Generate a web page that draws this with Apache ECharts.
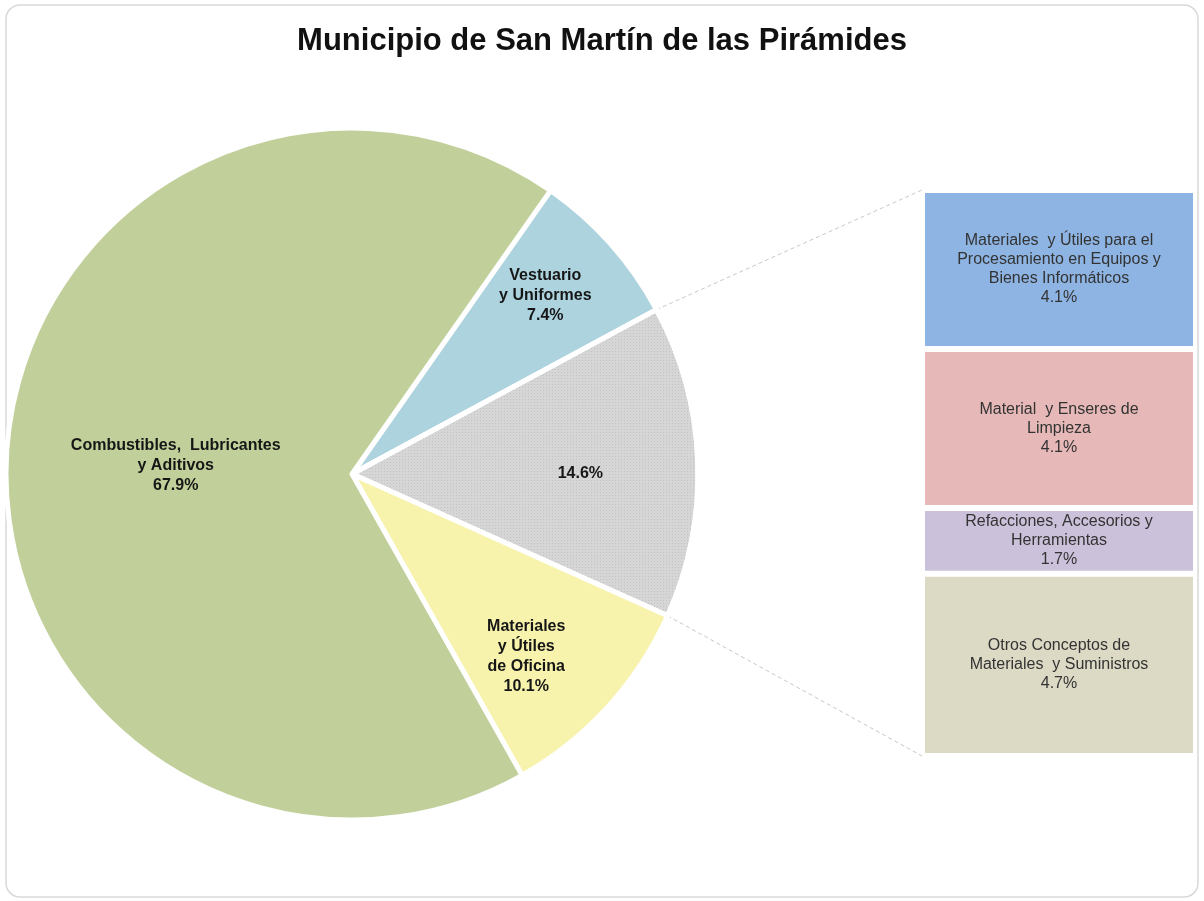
<!DOCTYPE html>
<html><head><meta charset="utf-8">
<script src="https://cdn.jsdelivr.net/npm/echarts@6/dist/echarts.min.js"></script>
<style>html,body{margin:0;padding:0;background:#fff}#c{width:1204px;height:901px}</style>
</head><body><div id="c"></div>
<script>
// ---- data ----
const titleText = 'Municipio de San Martín de las Pirámides';
const pieCategories = ['Vestuario\ny Uniformes', 'Otros', 'Materiales\ny Útiles\nde Oficina', 'Combustibles,  Lubricantes\ny Aditivos'];
const pieValues = [7.4, 14.6, 10.1, 67.9];
const otherIndex = 1;
const barCategories = [
  'Materiales  y Útiles para el\nProcesamiento en Equipos y\nBienes Informáticos',
  'Material  y Enseres de\nLimpieza',
  'Refacciones, Accesorios y\nHerramientas',
  'Otros Conceptos de\nMateriales  y Suministros'
];
const barValues = [4.1, 4.1, 1.7, 4.7];

// ---- style / layout ----
const pieColors = ['#add3df', '#d6d6d6', '#f7f3ad', '#c1d09a'];
const barColors = ['#8db4e2', '#e6b9b8', '#ccc1da', '#dcd9c4'];
const barBorders = ['#7fa6d6', '#dcaaa9', '#bfb3d0', '#cfcbb3'];
const pieCenter = [352, 474];
const pieRadius = 346;
const startClock = 35; // degrees clockwise from 12 o'clock
const labelRadiusFactor = [0.76, 0.66, 0.73, 0.51];
const labelAngleShift = [-1, 2, 4, 0];
const gridBox = {left: 922, right: 8, top: 190, bottom: 145};
const FONT = '"Liberation Sans", Arial, sans-serif';

const chart = echarts.init(document.getElementById('c'));
const barTotal = barValues.reduce((a, b) => a + b, 0);
const pieTotal = pieValues.reduce((a, b) => a + b, 0);
// clockwise angles (deg from 12 o'clock) of each slice start
const sliceStart = [];
{ let acc = 0; pieValues.forEach(v => { sliceStart.push(startClock + acc / pieTotal * 360); acc += v; }); }
function pointAt(clockDeg, r) {
  const a = clockDeg * Math.PI / 180;
  return [pieCenter[0] + r * Math.sin(a), pieCenter[1] - r * Math.cos(a)];
}

const option = {
  backgroundColor: '#fff',
  animation: false,
  title: {
    text: titleText, left: 'center', top: 21,
    textStyle: {fontFamily: FONT, fontSize: 31, fontWeight: 'bold', color: '#111'}
  },
  grid: {left: gridBox.left, right: gridBox.right, top: gridBox.top, bottom: gridBox.bottom},
  xAxis: {type: 'category', data: ['x'], show: false},
  yAxis: {type: 'value', min: 0, max: barTotal, inverse: true, show: false},
  series: [
    {
      type: 'pie',
      center: pieCenter,
      radius: pieRadius,
      startAngle: 90 - startClock,
      clockwise: true,
      silent: true,
      itemStyle: {borderColor: '#fff', borderWidth: 5},
      label: {
        show: true, position: 'inside', align: 'center', verticalAlign: 'middle',
        fontFamily: FONT, fontSize: 16, fontWeight: 'bold', lineHeight: 20, color: '#161616',
        formatter: p => p.dataIndex === otherIndex ? p.value.toFixed(1) + '%' : p.name + '\n' + p.value.toFixed(1) + '%'
      },
      labelLine: {show: false},
      labelLayout: function (params) {
        const i = params.dataIndex;
        const mid = sliceStart[i] + pieValues[i] / pieTotal * 180 + labelAngleShift[i];
        const pt = pointAt(mid, pieRadius * labelRadiusFactor[i]);
        return {x: pt[0], y: pt[1], align: 'center', verticalAlign: 'middle'};
      },
      data: pieCategories.map((n, i) => ({
        name: n, value: pieValues[i],
        itemStyle: i === otherIndex ? {
          color: pieColors[i],
          decal: {symbol: 'rect', symbolSize: 1, color: 'rgba(160,160,160,0.35)', dashArrayX: [1, 2], dashArrayY: [1, 2]}
        } : {color: pieColors[i]}
      }))
    }
  ].concat(barCategories.map((n, i) => ({
    type: 'bar', name: n, stack: 'other', barWidth: '100%', silent: true,
    data: [barValues[i]],
    itemStyle: {color: barColors[i], borderColor: '#fff', borderWidth: 3},
    label: {
      show: true, position: 'inside',
      fontFamily: FONT, fontSize: 16, lineHeight: 19, color: '#333',
      formatter: p => p.seriesName + '\n' + p.value.toFixed(1) + '%'
    }
  })))
};
chart.setOption(option);

// connector lines from the "other" slice edges to the bar ends
const p1 = pointAt(sliceStart[otherIndex], pieRadius);
const p2 = pointAt(sliceStart[otherIndex] + pieValues[otherIndex] / pieTotal * 360, pieRadius);
const yTop = chart.convertToPixel({yAxisIndex: 0}, 0);
const yBot = chart.convertToPixel({yAxisIndex: 0}, barTotal);
const xLeft = gridBox.left;
chart.setOption({
  graphic: [
    {type: 'rect', z: -10, silent: true, shape: {x: 6, y: 5, width: 1192, height: 892, r: 14},
     style: {fill: 'none', stroke: '#d9d9d9', lineWidth: 1.5}},
    {type: 'line', silent: true, shape: {x1: p1[0], y1: p1[1], x2: xLeft, y2: yTop},
     style: {stroke: '#c8c8c8', lineWidth: 1, lineDash: [4, 3]}},
    {type: 'line', silent: true, shape: {x1: p2[0], y1: p2[1], x2: xLeft, y2: yBot},
     style: {stroke: '#c8c8c8', lineWidth: 1, lineDash: [4, 3]}}
  ]
});
</script></body></html>
